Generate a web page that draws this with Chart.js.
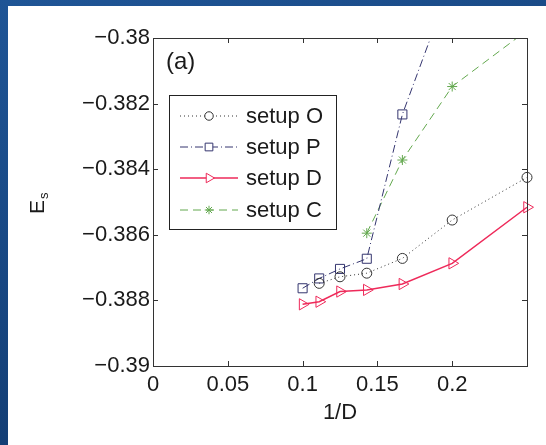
<!DOCTYPE html>
<html>
<head>
<meta charset="utf-8">
<script src="https://cdn.jsdelivr.net/npm/chart.js@4"></script>
<style>
  body { margin: 0; width: 546px; height: 445px; overflow: hidden;
         background: linear-gradient(160deg, #1f5596 0%, #17457f 50%, #0f3566 100%); }
  #panel { position: absolute; left: 8px; top: 6px; width: 538px; height: 439px; background: #fff; }
  #myChart { position: absolute; left: 0; top: 0; }
</style>
</head>
<body>
<div id="panel"></div>
<canvas id="myChart" width="546" height="445"></canvas>
<script>
// 1/D values (D = 10, 9, 8, 7, 6, 5, 4)
var invD = [0.1, 0.1111, 0.125, 0.1429, 0.1667, 0.2, 0.25]

var setupO = [null, -0.38748, -0.38728, -0.38717, -0.38672, -0.38555, -0.38425]
var setupP = [-0.38763, -0.38733, -0.38704, -0.38673, -0.38233, -0.3782, null]
var setupD = [-0.38812, -0.38804, -0.38773, -0.38768, -0.3875, -0.38687, -0.38516]
var setupC = [null, null, null, -0.38595, -0.38372, -0.38148, -0.37977]

var xTicks = [0, 0.05, 0.1, 0.15, 0.2]
var yTicks = [-0.39, -0.388, -0.386, -0.384, -0.382, -0.38]

var FONT = "'Liberation Sans', Arial, sans-serif"

function pts(ys){
    var out = []
    for (var i = 0; i < invD.length; i++) {
        if (ys[i] !== null) out.push({x: invD[i], y: ys[i]})
    }
    return out
}

var clipTop = {left: 12, right: 12, top: 0, bottom: 12}

var series = [
    {label: 'setup O', data: pts(setupO), color: '#333333', dash: [1, 3], width: 1,
     marker: 'circle', r: 5, rot: 0},
    {label: 'setup P', data: pts(setupP), color: '#34356f', dash: [8, 3, 1, 3], width: 1,
     marker: 'rect', r: 6.4, rot: 0},
    {label: 'setup D', data: pts(setupD), color: '#ee2a5a', dash: [], width: 1.5,
     marker: 'triangle', r: 6.5, rot: 90},
    {label: 'setup C', data: pts(setupC), color: '#63a84e', dash: [8, 5], width: 1,
     marker: 'star', r: 5, rot: 0}
]

// ticks pointing in, the box, the panel label, the legend and the y title
var decor = {
    id: 'decor',
    afterDraw: function(chart){
        var c = chart.ctx, a = chart.chartArea
        var xs = chart.scales.x, ys = chart.scales.y
        c.save()
        c.strokeStyle = '#333'
        c.lineWidth = 1
        c.beginPath()
        xTicks.forEach(function(v){
            var p = Math.round(xs.getPixelForValue(v)) + 0.5
            c.moveTo(p, a.bottom); c.lineTo(p, a.bottom - 5)
            c.moveTo(p, a.top); c.lineTo(p, a.top + 5)
        })
        yTicks.forEach(function(v){
            var p = Math.round(ys.getPixelForValue(v)) + 0.5
            c.moveTo(a.left, p); c.lineTo(a.left + 5, p)
            c.moveTo(a.right, p); c.lineTo(a.right - 5, p)
        })
        c.stroke()
        c.strokeRect(a.left + 0.5, a.top + 0.5, a.right - a.left, a.bottom - a.top)

        c.fillStyle = '#1a1a1a'
        c.font = '24px ' + FONT
        c.textBaseline = 'middle'
        c.textAlign = 'left'
        c.fillText('(a)', 166, 62)

        // legend
        var lx = 169, ly = 95, lw = 167, lh = 134
        c.fillStyle = '#fff'
        c.fillRect(lx, ly, lw, lh)
        c.strokeStyle = '#222'
        c.strokeRect(lx + 0.5, ly + 0.5, lw, lh)
        var rows = [116, 147, 178, 210]
        series.forEach(function(s, i){
            var y = rows[i]
            c.strokeStyle = s.color
            c.lineWidth = s.width
            c.setLineDash(s.dash)
            c.beginPath(); c.moveTo(180, y); c.lineTo(238, y); c.stroke()
            c.setLineDash([])
            c.lineWidth = 1
            c.fillStyle = '#fff'
            Chart.helpers.drawPoint(c, {pointStyle: s.marker, radius: s.r * 0.85, rotation: s.rot, borderWidth: 1}, 209, y)
            c.fillStyle = '#1a1a1a'
            c.font = '22px ' + FONT
            c.textBaseline = 'middle'
            c.fillText(s.label, 246, y + 1)
        })

        // y title E with subscript s
        c.translate(44, 214)
        c.rotate(-Math.PI / 2)
        c.textBaseline = 'alphabetic'
        c.fillStyle = '#1a1a1a'
        c.font = '21px ' + FONT
        c.fillText('E', 0, 0)
        var w = c.measureText('E').width
        c.font = '13px ' + FONT
        c.fillText('s', w + 1, 4)
        c.restore()
    }
}

var ctx = document.getElementById('myChart').getContext('2d')
var Chart1 = new Chart(ctx, {
    type: 'line',
    plugins: [decor],
    data: {
        datasets: series.map(function(s){
            return {
                label: s.label,
                data: s.data,
                borderColor: s.color,
                borderWidth: s.width,
                borderDash: s.dash,
                pointStyle: s.marker,
                pointRadius: s.r,
                pointRotation: s.rot,
                pointBorderColor: s.color,
                pointBorderWidth: 1,
                pointBackgroundColor: 'rgba(0,0,0,0)',
                tension: 0,
                clip: clipTop
            }
        })
    },
    options: {
        responsive: false,
        animation: false,
        devicePixelRatio: 1,
        layout: { padding: {left: 0, top: 38, right: 19, bottom: 0} },
        plugins: {
            legend: { display: false },
            tooltip: { enabled: false }
        },
        scales: {
            x: {
                type: 'linear',
                min: 0,
                max: 0.25,
                afterFit: function(s){ s.height = 79 },
                afterBuildTicks: function(s){ s.ticks = xTicks.map(function(v){ return {value: v} }) },
                grid: { display: false, drawTicks: false },
                border: { display: false },
                ticks: {
                    padding: 6,
                    color: '#1a1a1a',
                    font: { family: FONT, size: 22 },
                    callback: function(v){ return String(+v.toFixed(2)) }
                },
                title: {
                    display: true,
                    text: '1/D',
                    color: '#1a1a1a',
                    font: { family: FONT, size: 22 },
                    padding: { top: 0, bottom: 19 }
                }
            },
            y: {
                min: -0.39,
                max: -0.38,
                afterFit: function(s){ s.width = 153 },
                afterBuildTicks: function(s){ s.ticks = yTicks.map(function(v){ return {value: v} }) },
                grid: { display: false, drawTicks: false },
                border: { display: false },
                ticks: {
                    padding: 3,
                    color: '#1a1a1a',
                    font: { family: FONT, size: 22 },
                    callback: function(v){ return '\u2212' + String(+Math.abs(v).toFixed(3)) }
                }
            }
        }
    }
})
</script>
</body>
</html>
